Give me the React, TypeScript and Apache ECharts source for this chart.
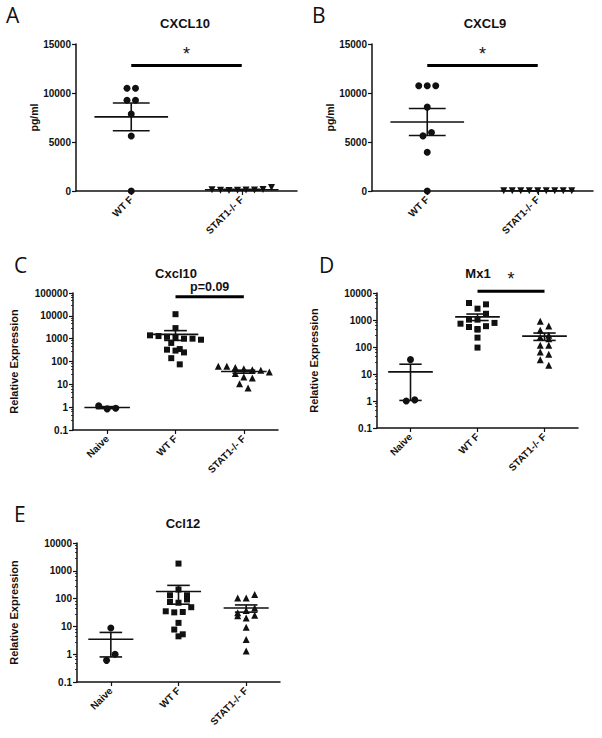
import React, { useEffect, useRef } from "react";
import * as echarts from "echarts";

// ---------- data ----------
const catsAB = ["WT F", "STAT1-/- F"];
const catsCDE = ["Naive", "WT F", "STAT1-/- F"];

// Panel A – CXCL10 (pg/ml)
const aWT = [10480, 10480, 9255, 9255, 7857, 5612, 0];
const aSTAT1 = [120, 80, 60, 70, 90, 100, 150, 350];
// Panel B – CXCL9 (pg/ml)
const bWT = [10736, 10736, 10736, 8558, 5624, 5965, 3955, 0];
const bSTAT1 = [30, 20, 20, 25, 20, 20, 20, 25, 30];
// Panel C – Cxcl10 relative expression
const cNaive = [1.15, 0.84, 0.9];
const cWT = [11800, 2900, 1400, 1300, 1200, 1100, 1000, 1000, 900, 650, 350, 330, 300, 250, 140, 75];
const cSTAT1 = [62, 62, 55, 48, 44, 41, 35, 30, 21, 19, 10.7, 6.9];
// Panel D – Mx1 relative expression
const dNaive = [34, 1.0, 1.1];
const dWT = [4270, 2630, 3800, 1030, 1030, 1700, 730, 550, 440, 465, 590, 780, 222, 95];
const dSTAT1 = [900, 600, 415, 270, 235, 204, 115, 115, 65, 54, 34, 21];
// Panel E – Ccl12 relative expression
const eNaive = [8.7, 0.6, 1.0];
const eWT = [1820, 132, 212, 132, 76, 71, 93, 35, 32, 33, 49, 13.4, 7.7, 4.4, 5.2];
const eSTAT1 = [106, 106, 141, 31, 24, 20, 25, 37, 46, 9.3, 3.4, 1.3];

// axis ranges
const linRange = [0, 15000, 5000];
const cLogRange = [0.1, 100000];
const dLogRange = [0.1, 10000];
const eLogRange = [0.1, 10000];

const titles = ["CXCL10", "CXCL9", "Cxcl10", "Mx1", "Ccl12"];
const letters = ["A", "B", "C", "D", "E"];
const yNames = ["pg/ml", "pg/ml", "Relative Expression", "Relative Expression", "Relative Expression"];
const sigLabels = ["*", "*", "p=0.09", "*"];
const sigLevels = [12800, 12800, 68000, 11700];

// ---------- styling ----------
const FONT = "'Liberation Sans', Arial, Helvetica, sans-serif";
const INK = "#111";

type Panel = {
  grid: { left: number; top: number; width: number; height: number };
  cats: string[];
  groups: number[][];
  marks: string[];
  rot: number[];
  sizes: number[];
  yType: "value" | "log";
  range: number[];
  nameGap: number;
  titlePos: number[];
  letterPos: number[];
  sig?: { from: number; to: number; idx: number };
};

const panels: Panel[] = [
  {
    grid: { left: 76, top: 44, width: 221, height: 147 },
    cats: catsAB, groups: [aWT, aSTAT1], marks: ["circle", "triangle"], rot: [0, 180], sizes: [7, 7],
    yType: "value", range: linRange, nameGap: 37, titlePos: [185, 23], letterPos: [6, 15],
    sig: { from: 0, to: 1, idx: 0 },
  },
  {
    grid: { left: 372, top: 44, width: 221, height: 147 },
    cats: catsAB, groups: [bWT, bSTAT1], marks: ["circle", "triangle"], rot: [0, 180], sizes: [7, 7],
    yType: "value", range: linRange, nameGap: 37, titlePos: [485, 23], letterPos: [312, 15],
    sig: { from: 0, to: 1, idx: 1 },
  },
  {
    grid: { left: 73, top: 293, width: 205, height: 137 },
    cats: catsCDE, groups: [cNaive, cWT, cSTAT1], marks: ["circle", "rect", "triangle"], rot: [0, 0, 0], sizes: [7, 6, 7],
    yType: "log", range: cLogRange, nameGap: 54, titlePos: [176, 273], letterPos: [14, 265],
    sig: { from: 1, to: 2, idx: 2 },
  },
  {
    grid: { left: 377, top: 293, width: 201, height: 135 },
    cats: catsCDE, groups: [dNaive, dWT, dSTAT1], marks: ["circle", "rect", "triangle"], rot: [0, 0, 0], sizes: [7, 6, 7],
    yType: "log", range: dLogRange, nameGap: 58, titlePos: [478, 273], letterPos: [319, 265],
    sig: { from: 1, to: 2, idx: 3 },
  },
  {
    grid: { left: 77, top: 543, width: 203, height: 139 },
    cats: catsCDE, groups: [eNaive, eWT, eSTAT1], marks: ["circle", "rect", "triangle"], rot: [0, 0, 0], sizes: [7, 6, 7],
    yType: "log", range: eLogRange, nameGap: 58, titlePos: [183, 523], letterPos: [14, 514],
  },
];

function meanSem(vals: number[]) {
  const n = vals.length;
  const m = vals.reduce((s, v) => s + v, 0) / n;
  const sd = Math.sqrt(vals.reduce((s, v) => s + (v - m) * (v - m), 0) / (n - 1));
  return [m, sd / Math.sqrt(n)];
}

// GraphPad-like row swarm: values close in pixel height share a row and are spread symmetrically
function swarm(vals: number[], cat: number, toPx: (v: number) => number, bandPx: number) {
  const SP = 8.5;
  const ROW = 6.5;
  const items = vals.map((v, i) => ({ v, i, y: toPx(v) })).sort((a, b) => b.y - a.y || a.i - b.i);
  const rows: { v: number; i: number; y: number }[][] = [];
  let cur: { v: number; i: number; y: number }[] = [];
  let start = 0;
  for (const it of items) {
    if (cur.length && start - it.y > ROW) {
      rows.push(cur);
      cur = [];
    }
    if (!cur.length) start = it.y;
    cur.push(it);
  }
  if (cur.length) rows.push(cur);
  const out: number[][] = [];
  for (const r of rows) {
    r.sort((a, b) => a.i - b.i);
    r.forEach((it, k) => {
      const off = (k - (r.length - 1) / 2) * SP;
      out.push([cat + off / bandPx, it.v]);
    });
  }
  return out;
}

function buildOption() {
  const grid: any[] = [];
  const xAxis: any[] = [];
  const yAxis: any[] = [];
  const series: any[] = [];
  const graphic: any[] = [];

  panels.forEach((p, pi) => {
    grid.push({ ...p.grid, containLabel: false });
    const n = p.cats.length;
    xAxis.push({
      type: "category", gridIndex: pi, data: p.cats, boundaryGap: true,
      axisLine: { show: true, onZero: false, lineStyle: { color: INK, width: 1.5 } },
      axisTick: { show: true, alignWithLabel: true, length: 4, lineStyle: { color: INK, width: 1.2 } },
      axisLabel: { rotate: 45, interval: 0, margin: 7, fontSize: 10, fontWeight: "bold", fontFamily: FONT, color: INK },
      splitLine: { show: false },
    });
    const valAxis = xAxis.length;
    xAxis.push({
      type: "value", gridIndex: pi, min: -0.5, max: n - 0.5, show: false,
      axisLine: { show: false, onZero: false }, splitLine: { show: false },
    });
    const yi = yAxis.length;
    const isLog = p.yType === "log";
    yAxis.push({
      type: p.yType, gridIndex: pi,
      min: p.range[0], max: p.range[1],
      ...(isLog ? { logBase: 10 } : { interval: p.range[2] }),
      name: yNames[pi], nameLocation: "middle", nameGap: p.nameGap, nameRotate: 90,
      nameTextStyle: { fontSize: isLog ? 11 : 10.5, fontWeight: "bold", fontFamily: FONT, color: INK },
      axisLine: { show: true, onZero: false, lineStyle: { color: INK, width: 1.5 } },
      axisTick: { show: true, length: 4, lineStyle: { color: INK, width: 1.2 } },
      minorTick: isLog ? { show: true, splitNumber: 5, length: 2, lineStyle: { color: INK, width: 0.8 } } : { show: false },
      axisLabel: {
        fontSize: 10, fontWeight: "bold", fontFamily: FONT, color: INK, margin: 5,
        formatter: (v: number) => (v < 1 ? String(+v.toFixed(1)) : String(Math.round(v))),
      },
      splitLine: { show: false },
      minorSplitLine: { show: false },
    });

    const h = p.grid.height;
    const lo = p.range[0], hi = p.range[1];
    const toPx = isLog
      ? (v: number) => ((Math.log10(v) - Math.log10(lo)) / (Math.log10(hi) - Math.log10(lo))) * h
      : (v: number) => ((v - lo) / (hi - lo)) * h;
    const bandPx = p.grid.width / n;

    // error bars (mean ± SEM)
    const ebData = p.groups.map((g, gi) => {
      const [m, s] = meanSem(g);
      return [gi, m, Math.max(m - s, isLog ? lo : -Infinity), m + s];
    });
    series.push({
      type: "custom", xAxisIndex: valAxis, yAxisIndex: yi, z: 2, silent: true,
      data: ebData,
      renderItem: (_params: any, api: any) => {
        const c = api.value(0);
        const pm = api.coord([c, api.value(1)]);
        const pl = api.coord([c, api.value(2)]);
        const ph = api.coord([c, api.value(3)]);
        const band = api.coord([c + 0.5, api.value(1)])[0] - api.coord([c - 0.5, api.value(1)])[0];
        const st = { stroke: INK, lineWidth: 1.6 };
        return {
          type: "group",
          children: [
            { type: "line", shape: { x1: pm[0] - band / 3, y1: pm[1], x2: pm[0] + band / 3, y2: pm[1] }, style: st },
            { type: "line", shape: { x1: pl[0], y1: pl[1], x2: ph[0], y2: ph[1] }, style: st },
            { type: "line", shape: { x1: pl[0] - band / 6, y1: pl[1], x2: pl[0] + band / 6, y2: pl[1] }, style: st },
            { type: "line", shape: { x1: ph[0] - band / 6, y1: ph[1], x2: ph[0] + band / 6, y2: ph[1] }, style: st },
          ],
        };
      },
    });

    // scatter points
    p.groups.forEach((g, gi) => {
      series.push({
        type: "scatter", xAxisIndex: valAxis, yAxisIndex: yi, z: 3, clip: false, silent: true,
        symbol: p.marks[gi], symbolSize: p.sizes[gi], symbolRotate: p.rot[gi],
        itemStyle: { color: INK, opacity: 1 },
        data: swarm(g, gi, toPx, bandPx),
      });
    });

    // significance bar
    if (p.sig) {
      const label = sigLabels[p.sig.idx];
      const isStar = label === "*";
      series.push({
        type: "custom", xAxisIndex: valAxis, yAxisIndex: yi, z: 4, silent: true, clip: false,
        data: [[p.sig.from, p.sig.to, sigLevels[p.sig.idx]]],
        renderItem: (_params: any, api: any) => {
          const p1 = api.coord([api.value(0), api.value(2)]);
          const p2 = api.coord([api.value(1), api.value(2)]);
          return {
            type: "group",
            children: [
              { type: "line", shape: { x1: p1[0], y1: p1[1], x2: p2[0], y2: p2[1] }, style: { stroke: "#000", lineWidth: 3 } },
              {
                type: "text",
                x: (p1[0] + p2[0]) / 2,
                y: p1[1] - (isStar ? 12 : 10),
                style: {
                  text: label, align: "center", verticalAlign: "middle", fill: INK,
                  fontFamily: FONT, fontSize: isStar ? 18 : 12.5, fontWeight: isStar ? "normal" : "bold",
                },
              },
            ],
          };
        },
      });
    }

    graphic.push({
      type: "text", x: p.titlePos[0], y: p.titlePos[1],
      style: { text: titles[pi], align: "center", verticalAlign: "middle", fill: INK, fontFamily: FONT, fontSize: 13, fontWeight: "bold" },
    });
    graphic.push({
      type: "text", x: p.letterPos[0], y: p.letterPos[1],
      style: { text: letters[pi], align: "left", verticalAlign: "middle", fill: INK, fontFamily: "'Open Sans', sans-serif", fontSize: 21 },
    });
  });

  return { animation: false, backgroundColor: "#fff", grid, xAxis, yAxis, series, graphic };
}

export default function App() {
  const ref = useRef<HTMLDivElement>(null);
  useEffect(() => {
    if (!ref.current) return;
    const chart = echarts.init(ref.current, null, { renderer: "svg" });
    chart.setOption(buildOption());
    return () => chart.dispose();
  }, []);
  return (
    <div
      ref={ref}
      style={{ position: "fixed", left: 0, top: 0, width: 602, height: 738, background: "#fff" }}
    />
  );
}
